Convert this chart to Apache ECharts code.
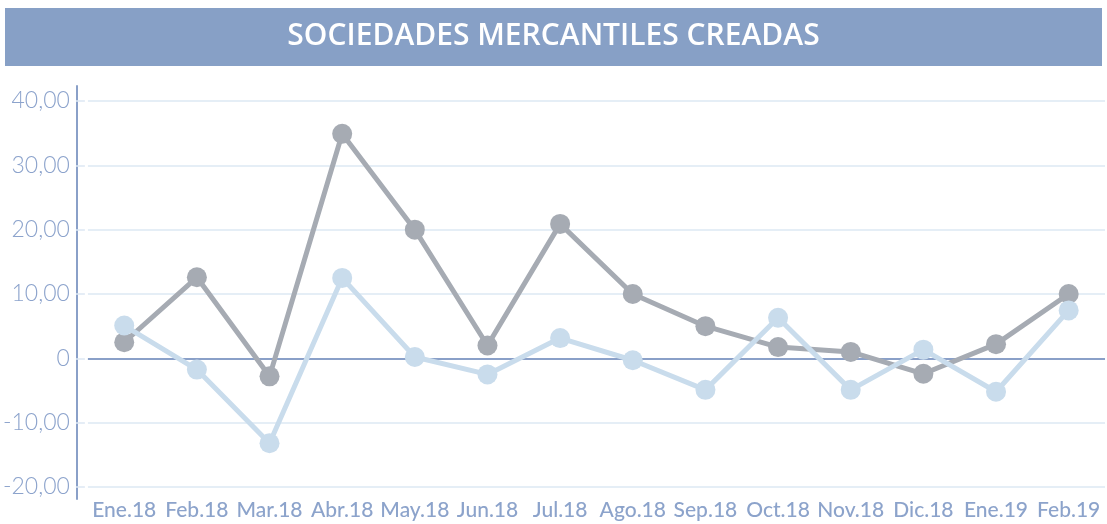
<!DOCTYPE html>
<html>
<head>
<meta charset="utf-8">
<script src="https://cdn.jsdelivr.net/npm/echarts@6/dist/echarts.min.js"></script>
<style>
html,body{margin:0;padding:0;background:#fff;}
#chart{width:1107px;height:524px;}
</style>
</head>
<body>
<div id="chart"></div>
<script>
const titleText = 'SOCIEDADES MERCANTILES CREADAS';
const categories = ['Ene.18','Feb.18','Mar.18','Abr.18','May.18','Jun.18','Jul.18','Ago.18','Sep.18','Oct.18','Nov.18','Dic.18','Ene.19','Feb.19'];
const seriesGray = [2.5, 12.6, -2.8, 34.9, 20.0, 2.0, 20.9, 10.0, 5.0, 1.75, 1.0, -2.4, 2.2, 10.0];
const seriesLight = [5.1, -1.75, -13.2, 12.5, 0.2, -2.5, 3.15, -0.3, -4.9, 6.3, -4.9, 1.35, -5.2, 7.45];
const yMin = -20, yMax = 40, yStep = 10;

const chart = echarts.init(document.getElementById('chart'), null, {renderer: 'canvas'});

function fmt(v) {
  if (v === 0) return '0';
  return v.toFixed(2).replace('.', ',');
}

chart.setOption({
  animation: false,
  backgroundColor: '#ffffff',
  graphic: [{
    type: 'rect',
    left: 5, top: 8, z: -1,
    shape: {width: 1097, height: 58},
    style: {fill: '#87a0c6'}
  }],
  title: {
    text: titleText,
    left: 'center',
    top: 16,
    textStyle: {color: '#ffffff', fontFamily: 'Open Sans', fontWeight: 600, fontSize: 30}
  },
  grid: [
    {left: 80, right: 2, top: 101, bottom: 37, containLabel: false},
    {left: 77, right: 2, top: 86, bottom: 25, containLabel: false}
  ],
  xAxis: [{
    type: 'category',
    data: categories,
    boundaryGap: true,
    axisLine: {show: false},
    axisTick: {show: false},
    axisLabel: {color: '#8ca3cb', fontFamily: 'Lato', fontWeight: 500, fontSize: 21, margin: 13, interval: 0}
  }, {
    type: 'category', gridIndex: 1, show: false, data: categories
  }],
  yAxis: [{
    type: 'value',
    min: yMin, max: yMax, interval: yStep,
    offset: 3,
    axisLine: {show: false},
    axisTick: {show: true, length: 9, lineStyle: {color: '#dde8f3', width: 1.5}},
    splitLine: {show: true, lineStyle: {color: '#dde8f3', width: 1.5}},
    axisLabel: {
      color: '#8ca3cc', fontFamily: 'Lato', fontWeight: 300, fontSize: 23, margin: 15,
      formatter: fmt
    }
  }, {
    type: 'value', gridIndex: 1, min: 0, max: 1,
    axisLine: {show: true, lineStyle: {color: '#8aa0c8', width: 2}},
    axisTick: {show: false}, axisLabel: {show: false}, splitLine: {show: false}
  }],
  series: [{
    name: 'gray',
    type: 'line',
    data: seriesGray,
    symbol: 'circle',
    symbolSize: 20,
    lineStyle: {color: '#a6abb3', width: 5},
    itemStyle: {color: '#a6abb3'},
    z: 3,
    markLine: {
      silent: true, symbol: 'none', label: {show: false},
      lineStyle: {color: '#8aa0c8', width: 2, type: 'solid'},
      data: [{yAxis: 0}],
      z: 1
    }
  }, {
    name: 'light',
    type: 'line',
    data: seriesLight,
    symbol: 'circle',
    symbolSize: 20,
    lineStyle: {color: '#c9dcec', width: 5},
    itemStyle: {color: '#c9dcec'},
    z: 4
  }]
});
</script>
</body>
</html>
